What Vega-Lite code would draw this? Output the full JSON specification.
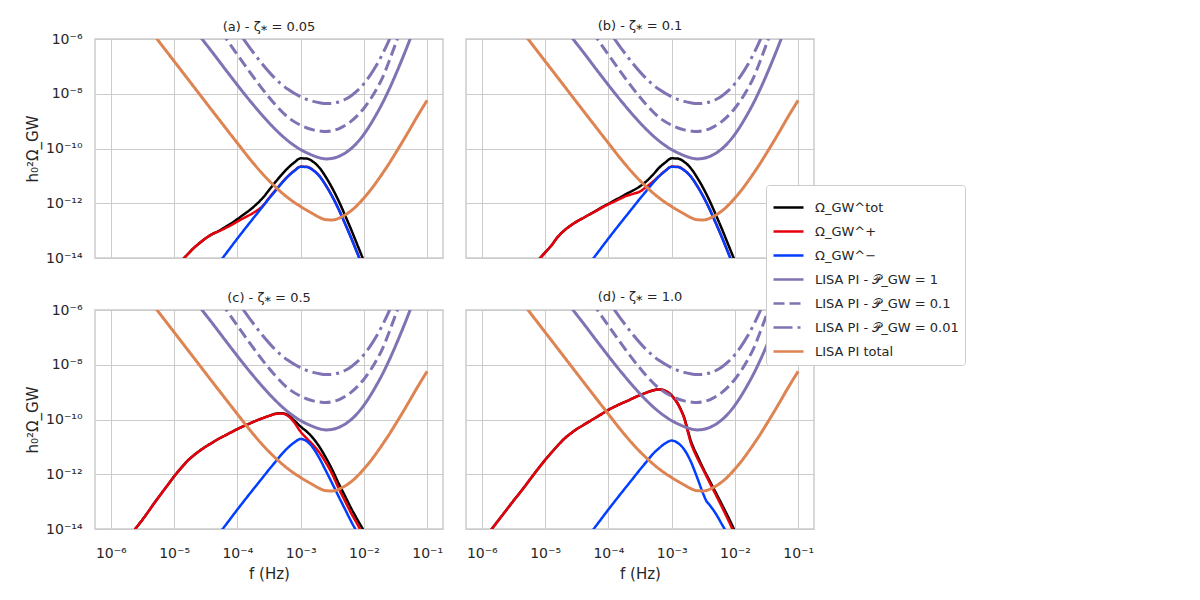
{
  "$schema": "https://vega.github.io/schema/vega-lite/v6.json",
  "padding": {"left": 24, "top": 19, "right": 5, "bottom": 5},
  "datasets": {
    "sens": [
      {"series": "LISA PI - 𝒫_GW = 1", "f": 1.585e-5, "v": 5.25e-6},
      {"series": "LISA PI - 𝒫_GW = 1", "f": 2.512e-5, "v": 1.32e-6},
      {"series": "LISA PI - 𝒫_GW = 1", "f": 3.981e-5, "v": 3.39e-7},
      {"series": "LISA PI - 𝒫_GW = 1", "f": 6.310e-5, "v": 8.32e-8},
      {"series": "LISA PI - 𝒫_GW = 1", "f": 1e-4, "v": 2.09e-8},
      {"series": "LISA PI - 𝒫_GW = 1", "f": 1.585e-4, "v": 5.50e-9},
      {"series": "LISA PI - 𝒫_GW = 1", "f": 2.512e-4, "v": 1.58e-9},
      {"series": "LISA PI - 𝒫_GW = 1", "f": 3.981e-4, "v": 5.01e-10},
      {"series": "LISA PI - 𝒫_GW = 1", "f": 6.310e-4, "v": 1.91e-10},
      {"series": "LISA PI - 𝒫_GW = 1", "f": 1e-3, "v": 9.12e-11},
      {"series": "LISA PI - 𝒫_GW = 1", "f": 1.259e-3, "v": 6.92e-11},
      {"series": "LISA PI - 𝒫_GW = 1", "f": 1.585e-3, "v": 5.50e-11},
      {"series": "LISA PI - 𝒫_GW = 1", "f": 1.995e-3, "v": 4.57e-11},
      {"series": "LISA PI - 𝒫_GW = 1", "f": 2.512e-3, "v": 4.17e-11},
      {"series": "LISA PI - 𝒫_GW = 1", "f": 3.162e-3, "v": 4.37e-11},
      {"series": "LISA PI - 𝒫_GW = 1", "f": 3.981e-3, "v": 5.13e-11},
      {"series": "LISA PI - 𝒫_GW = 1", "f": 5.012e-3, "v": 6.76e-11},
      {"series": "LISA PI - 𝒫_GW = 1", "f": 6.310e-3, "v": 1.00e-10},
      {"series": "LISA PI - 𝒫_GW = 1", "f": 7.943e-3, "v": 1.70e-10},
      {"series": "LISA PI - 𝒫_GW = 1", "f": 1e-2, "v": 3.31e-10},
      {"series": "LISA PI - 𝒫_GW = 1", "f": 1.259e-2, "v": 7.41e-10},
      {"series": "LISA PI - 𝒫_GW = 1", "f": 1.585e-2, "v": 1.82e-9},
      {"series": "LISA PI - 𝒫_GW = 1", "f": 1.995e-2, "v": 4.90e-9},
      {"series": "LISA PI - 𝒫_GW = 1", "f": 2.512e-2, "v": 1.48e-8},
      {"series": "LISA PI - 𝒫_GW = 1", "f": 3.162e-2, "v": 4.90e-8},
      {"series": "LISA PI - 𝒫_GW = 1", "f": 3.981e-2, "v": 1.74e-7},
      {"series": "LISA PI - 𝒫_GW = 1", "f": 5.012e-2, "v": 6.61e-7},
      {"series": "LISA PI - 𝒫_GW = 1", "f": 6.310e-2, "v": 2.63e-6},

      {"series": "LISA PI - 𝒫_GW = 0.1", "f": 3.981e-5, "v": 5.75e-6},
      {"series": "LISA PI - 𝒫_GW = 0.1", "f": 6.310e-5, "v": 1.23e-6},
      {"series": "LISA PI - 𝒫_GW = 0.1", "f": 1e-4, "v": 2.69e-7},
      {"series": "LISA PI - 𝒫_GW = 0.1", "f": 1.585e-4, "v": 6.03e-8},
      {"series": "LISA PI - 𝒫_GW = 0.1", "f": 2.512e-4, "v": 1.45e-8},
      {"series": "LISA PI - 𝒫_GW = 0.1", "f": 3.981e-4, "v": 3.98e-9},
      {"series": "LISA PI - 𝒫_GW = 0.1", "f": 6.310e-4, "v": 1.38e-9},
      {"series": "LISA PI - 𝒫_GW = 0.1", "f": 1e-3, "v": 7.08e-10},
      {"series": "LISA PI - 𝒫_GW = 0.1", "f": 1.259e-3, "v": 5.62e-10},
      {"series": "LISA PI - 𝒫_GW = 0.1", "f": 1.585e-3, "v": 4.79e-10},
      {"series": "LISA PI - 𝒫_GW = 0.1", "f": 1.995e-3, "v": 4.37e-10},
      {"series": "LISA PI - 𝒫_GW = 0.1", "f": 2.512e-3, "v": 4.17e-10},
      {"series": "LISA PI - 𝒫_GW = 0.1", "f": 3.162e-3, "v": 4.47e-10},
      {"series": "LISA PI - 𝒫_GW = 0.1", "f": 3.981e-3, "v": 5.25e-10},
      {"series": "LISA PI - 𝒫_GW = 0.1", "f": 5.012e-3, "v": 6.92e-10},
      {"series": "LISA PI - 𝒫_GW = 0.1", "f": 6.310e-3, "v": 1.00e-9},
      {"series": "LISA PI - 𝒫_GW = 0.1", "f": 7.943e-3, "v": 1.62e-9},
      {"series": "LISA PI - 𝒫_GW = 0.1", "f": 1e-2, "v": 2.95e-9},
      {"series": "LISA PI - 𝒫_GW = 0.1", "f": 1.259e-2, "v": 6.17e-9},
      {"series": "LISA PI - 𝒫_GW = 0.1", "f": 1.585e-2, "v": 1.48e-8},
      {"series": "LISA PI - 𝒫_GW = 0.1", "f": 1.995e-2, "v": 4.17e-8},
      {"series": "LISA PI - 𝒫_GW = 0.1", "f": 2.512e-2, "v": 1.58e-7},
      {"series": "LISA PI - 𝒫_GW = 0.1", "f": 3.162e-2, "v": 6.61e-7},
      {"series": "LISA PI - 𝒫_GW = 0.1", "f": 3.981e-2, "v": 2.82e-6},

      {"series": "LISA PI - 𝒫_GW = 0.01", "f": 6.310e-5, "v": 1.00e-5},
      {"series": "LISA PI - 𝒫_GW = 0.01", "f": 1e-4, "v": 2.09e-6},
      {"series": "LISA PI - 𝒫_GW = 0.01", "f": 1.585e-4, "v": 4.68e-7},
      {"series": "LISA PI - 𝒫_GW = 0.01", "f": 2.512e-4, "v": 1.17e-7},
      {"series": "LISA PI - 𝒫_GW = 0.01", "f": 3.981e-4, "v": 3.55e-8},
      {"series": "LISA PI - 𝒫_GW = 0.01", "f": 6.310e-4, "v": 1.45e-8},
      {"series": "LISA PI - 𝒫_GW = 0.01", "f": 1e-3, "v": 7.76e-9},
      {"series": "LISA PI - 𝒫_GW = 0.01", "f": 1.259e-3, "v": 6.17e-9},
      {"series": "LISA PI - 𝒫_GW = 0.01", "f": 1.585e-3, "v": 5.25e-9},
      {"series": "LISA PI - 𝒫_GW = 0.01", "f": 1.995e-3, "v": 4.68e-9},
      {"series": "LISA PI - 𝒫_GW = 0.01", "f": 2.512e-3, "v": 4.37e-9},
      {"series": "LISA PI - 𝒫_GW = 0.01", "f": 3.162e-3, "v": 4.47e-9},
      {"series": "LISA PI - 𝒫_GW = 0.01", "f": 3.981e-3, "v": 5.01e-9},
      {"series": "LISA PI - 𝒫_GW = 0.01", "f": 5.012e-3, "v": 6.17e-9},
      {"series": "LISA PI - 𝒫_GW = 0.01", "f": 6.310e-3, "v": 8.51e-9},
      {"series": "LISA PI - 𝒫_GW = 0.01", "f": 7.943e-3, "v": 1.32e-8},
      {"series": "LISA PI - 𝒫_GW = 0.01", "f": 1e-2, "v": 2.34e-8},
      {"series": "LISA PI - 𝒫_GW = 0.01", "f": 1.259e-2, "v": 4.79e-8},
      {"series": "LISA PI - 𝒫_GW = 0.01", "f": 1.585e-2, "v": 1.12e-7},
      {"series": "LISA PI - 𝒫_GW = 0.01", "f": 1.995e-2, "v": 3.02e-7},
      {"series": "LISA PI - 𝒫_GW = 0.01", "f": 2.512e-2, "v": 9.33e-7},
      {"series": "LISA PI - 𝒫_GW = 0.01", "f": 3.162e-2, "v": 3.31e-6},

      {"series": "LISA PI total", "f": 2.512e-6, "v": 9.77e-6},
      {"series": "LISA PI total", "f": 6.310e-6, "v": 6.17e-7},
      {"series": "LISA PI total", "f": 1.585e-5, "v": 3.89e-8},
      {"series": "LISA PI total", "f": 3.981e-5, "v": 2.45e-9},
      {"series": "LISA PI total", "f": 1e-4, "v": 1.58e-10},
      {"series": "LISA PI total", "f": 1.585e-4, "v": 4.07e-11},
      {"series": "LISA PI total", "f": 2.512e-4, "v": 1.17e-11},
      {"series": "LISA PI total", "f": 3.981e-4, "v": 3.98e-12},
      {"series": "LISA PI total", "f": 6.310e-4, "v": 1.58e-12},
      {"series": "LISA PI total", "f": 1e-3, "v": 7.59e-13},
      {"series": "LISA PI total", "f": 1.259e-3, "v": 5.50e-13},
      {"series": "LISA PI total", "f": 1.585e-3, "v": 4.07e-13},
      {"series": "LISA PI total", "f": 1.995e-3, "v": 3.02e-13},
      {"series": "LISA PI total", "f": 2.512e-3, "v": 2.51e-13},
      {"series": "LISA PI total", "f": 3.162e-3, "v": 2.45e-13},
      {"series": "LISA PI total", "f": 3.981e-3, "v": 2.82e-13},
      {"series": "LISA PI total", "f": 5.012e-3, "v": 3.72e-13},
      {"series": "LISA PI total", "f": 6.310e-3, "v": 5.37e-13},
      {"series": "LISA PI total", "f": 7.943e-3, "v": 8.71e-13},
      {"series": "LISA PI total", "f": 1e-2, "v": 1.55e-12},
      {"series": "LISA PI total", "f": 1.259e-2, "v": 2.95e-12},
      {"series": "LISA PI total", "f": 1.585e-2, "v": 6.03e-12},
      {"series": "LISA PI total", "f": 1.995e-2, "v": 1.29e-11},
      {"series": "LISA PI total", "f": 2.512e-2, "v": 2.88e-11},
      {"series": "LISA PI total", "f": 3.162e-2, "v": 6.76e-11},
      {"series": "LISA PI total", "f": 3.981e-2, "v": 1.62e-10},
      {"series": "LISA PI total", "f": 5.012e-2, "v": 3.98e-10},
      {"series": "LISA PI total", "f": 6.310e-2, "v": 1.00e-9},
      {"series": "LISA PI total", "f": 7.943e-2, "v": 2.45e-9},
      {"series": "LISA PI total", "f": 0.1, "v": 5.75e-9}
    ],
    "sig": [
      {"panel": "a", "series": "Ω_GW^tot", "f": 1.259e-5, "v": 7.08e-15},
      {"panel": "a", "series": "Ω_GW^tot", "f": 1.585e-5, "v": 1.26e-14},
      {"panel": "a", "series": "Ω_GW^tot", "f": 1.995e-5, "v": 2.19e-14},
      {"panel": "a", "series": "Ω_GW^tot", "f": 2.512e-5, "v": 3.47e-14},
      {"panel": "a", "series": "Ω_GW^tot", "f": 3.162e-5, "v": 5.25e-14},
      {"panel": "a", "series": "Ω_GW^tot", "f": 3.981e-5, "v": 7.41e-14},
      {"panel": "a", "series": "Ω_GW^tot", "f": 5.012e-5, "v": 9.55e-14},
      {"panel": "a", "series": "Ω_GW^tot", "f": 6.310e-5, "v": 1.32e-13},
      {"panel": "a", "series": "Ω_GW^tot", "f": 7.943e-5, "v": 1.82e-13},
      {"panel": "a", "series": "Ω_GW^tot", "f": 1e-4, "v": 2.63e-13},
      {"panel": "a", "series": "Ω_GW^tot", "f": 1.259e-4, "v": 3.89e-13},
      {"panel": "a", "series": "Ω_GW^tot", "f": 1.585e-4, "v": 5.75e-13},
      {"panel": "a", "series": "Ω_GW^tot", "f": 1.995e-4, "v": 9.12e-13},
      {"panel": "a", "series": "Ω_GW^tot", "f": 2.512e-4, "v": 1.55e-12},
      {"panel": "a", "series": "Ω_GW^tot", "f": 3.162e-4, "v": 3.02e-12},
      {"panel": "a", "series": "Ω_GW^tot", "f": 3.981e-4, "v": 5.89e-12},
      {"panel": "a", "series": "Ω_GW^tot", "f": 5.012e-4, "v": 1.10e-11},
      {"panel": "a", "series": "Ω_GW^tot", "f": 6.310e-4, "v": 1.95e-11},
      {"panel": "a", "series": "Ω_GW^tot", "f": 7.943e-4, "v": 3.09e-11},
      {"panel": "a", "series": "Ω_GW^tot", "f": 1e-3, "v": 4.37e-11},
      {"panel": "a", "series": "Ω_GW^tot", "f": 1.259e-3, "v": 4.27e-11},
      {"panel": "a", "series": "Ω_GW^tot", "f": 1.585e-3, "v": 3.24e-11},
      {"panel": "a", "series": "Ω_GW^tot", "f": 1.995e-3, "v": 1.95e-11},
      {"panel": "a", "series": "Ω_GW^tot", "f": 2.512e-3, "v": 8.91e-12},
      {"panel": "a", "series": "Ω_GW^tot", "f": 3.162e-3, "v": 3.55e-12},
      {"panel": "a", "series": "Ω_GW^tot", "f": 3.981e-3, "v": 1.23e-12},
      {"panel": "a", "series": "Ω_GW^tot", "f": 5.012e-3, "v": 3.72e-13},
      {"panel": "a", "series": "Ω_GW^tot", "f": 6.310e-3, "v": 1.07e-13},
      {"panel": "a", "series": "Ω_GW^tot", "f": 7.943e-3, "v": 2.88e-14},
      {"panel": "a", "series": "Ω_GW^tot", "f": 1e-2, "v": 7.76e-15},

      {"panel": "a", "series": "Ω_GW^+", "f": 1.259e-5, "v": 7.08e-15},
      {"panel": "a", "series": "Ω_GW^+", "f": 1.585e-5, "v": 1.26e-14},
      {"panel": "a", "series": "Ω_GW^+", "f": 1.995e-5, "v": 2.19e-14},
      {"panel": "a", "series": "Ω_GW^+", "f": 2.512e-5, "v": 3.47e-14},
      {"panel": "a", "series": "Ω_GW^+", "f": 3.162e-5, "v": 5.25e-14},
      {"panel": "a", "series": "Ω_GW^+", "f": 3.981e-5, "v": 7.41e-14},
      {"panel": "a", "series": "Ω_GW^+", "f": 5.012e-5, "v": 9.33e-14},
      {"panel": "a", "series": "Ω_GW^+", "f": 6.310e-5, "v": 1.20e-13},
      {"panel": "a", "series": "Ω_GW^+", "f": 7.943e-5, "v": 1.58e-13},
      {"panel": "a", "series": "Ω_GW^+", "f": 1e-4, "v": 2.14e-13},
      {"panel": "a", "series": "Ω_GW^+", "f": 1.259e-4, "v": 2.88e-13},
      {"panel": "a", "series": "Ω_GW^+", "f": 1.585e-4, "v": 3.80e-13},
      {"panel": "a", "series": "Ω_GW^+", "f": 1.995e-4, "v": 5.25e-13},
      {"panel": "a", "series": "Ω_GW^+", "f": 2.512e-4, "v": 7.94e-13},
      {"panel": "a", "series": "Ω_GW^+", "f": 3.162e-4, "v": 1.55e-12},
      {"panel": "a", "series": "Ω_GW^+", "f": 3.981e-4, "v": 2.95e-12},
      {"panel": "a", "series": "Ω_GW^+", "f": 5.012e-4, "v": 5.50e-12},
      {"panel": "a", "series": "Ω_GW^+", "f": 6.310e-4, "v": 9.77e-12},
      {"panel": "a", "series": "Ω_GW^+", "f": 7.943e-4, "v": 1.55e-11},
      {"panel": "a", "series": "Ω_GW^+", "f": 1e-3, "v": 2.19e-11},
      {"panel": "a", "series": "Ω_GW^+", "f": 1.259e-3, "v": 2.14e-11},
      {"panel": "a", "series": "Ω_GW^+", "f": 1.585e-3, "v": 1.62e-11},
      {"panel": "a", "series": "Ω_GW^+", "f": 1.995e-3, "v": 9.77e-12},
      {"panel": "a", "series": "Ω_GW^+", "f": 2.512e-3, "v": 4.47e-12},
      {"panel": "a", "series": "Ω_GW^+", "f": 3.162e-3, "v": 1.78e-12},
      {"panel": "a", "series": "Ω_GW^+", "f": 3.981e-3, "v": 6.17e-13},
      {"panel": "a", "series": "Ω_GW^+", "f": 5.012e-3, "v": 1.86e-13},
      {"panel": "a", "series": "Ω_GW^+", "f": 6.310e-3, "v": 5.37e-14},
      {"panel": "a", "series": "Ω_GW^+", "f": 7.943e-3, "v": 1.45e-14},
      {"panel": "a", "series": "Ω_GW^+", "f": 1e-2, "v": 3.89e-15},

      {"panel": "a", "series": "Ω_GW^−", "f": 5.012e-5, "v": 6.31e-15},
      {"panel": "a", "series": "Ω_GW^−", "f": 6.310e-5, "v": 1.26e-14},
      {"panel": "a", "series": "Ω_GW^−", "f": 1e-4, "v": 5.13e-14},
      {"panel": "a", "series": "Ω_GW^−", "f": 1.585e-4, "v": 2.00e-13},
      {"panel": "a", "series": "Ω_GW^−", "f": 2.512e-4, "v": 7.59e-13},
      {"panel": "a", "series": "Ω_GW^−", "f": 3.162e-4, "v": 1.48e-12},
      {"panel": "a", "series": "Ω_GW^−", "f": 3.981e-4, "v": 2.82e-12},
      {"panel": "a", "series": "Ω_GW^−", "f": 5.012e-4, "v": 5.37e-12},
      {"panel": "a", "series": "Ω_GW^−", "f": 6.310e-4, "v": 9.55e-12},
      {"panel": "a", "series": "Ω_GW^−", "f": 7.943e-4, "v": 1.51e-11},
      {"panel": "a", "series": "Ω_GW^−", "f": 1e-3, "v": 2.14e-11},
      {"panel": "a", "series": "Ω_GW^−", "f": 1.259e-3, "v": 2.09e-11},
      {"panel": "a", "series": "Ω_GW^−", "f": 1.585e-3, "v": 1.58e-11},
      {"panel": "a", "series": "Ω_GW^−", "f": 1.995e-3, "v": 9.55e-12},
      {"panel": "a", "series": "Ω_GW^−", "f": 2.512e-3, "v": 4.37e-12},
      {"panel": "a", "series": "Ω_GW^−", "f": 3.162e-3, "v": 1.74e-12},
      {"panel": "a", "series": "Ω_GW^−", "f": 3.981e-3, "v": 6.03e-13},
      {"panel": "a", "series": "Ω_GW^−", "f": 5.012e-3, "v": 1.82e-13},
      {"panel": "a", "series": "Ω_GW^−", "f": 6.310e-3, "v": 5.25e-14},
      {"panel": "a", "series": "Ω_GW^−", "f": 7.943e-3, "v": 1.41e-14},
      {"panel": "a", "series": "Ω_GW^−", "f": 1e-2, "v": 3.80e-15},

      {"panel": "b", "series": "Ω_GW^tot", "f": 7.943e-6, "v": 8.71e-15},
      {"panel": "b", "series": "Ω_GW^tot", "f": 1e-5, "v": 1.58e-14},
      {"panel": "b", "series": "Ω_GW^tot", "f": 1.259e-5, "v": 2.88e-14},
      {"panel": "b", "series": "Ω_GW^tot", "f": 1.585e-5, "v": 5.89e-14},
      {"panel": "b", "series": "Ω_GW^tot", "f": 1.995e-5, "v": 1.00e-13},
      {"panel": "b", "series": "Ω_GW^tot", "f": 2.512e-5, "v": 1.51e-13},
      {"panel": "b", "series": "Ω_GW^tot", "f": 3.162e-5, "v": 2.14e-13},
      {"panel": "b", "series": "Ω_GW^tot", "f": 3.981e-5, "v": 2.88e-13},
      {"panel": "b", "series": "Ω_GW^tot", "f": 5.012e-5, "v": 3.89e-13},
      {"panel": "b", "series": "Ω_GW^tot", "f": 6.310e-5, "v": 5.25e-13},
      {"panel": "b", "series": "Ω_GW^tot", "f": 7.943e-5, "v": 7.24e-13},
      {"panel": "b", "series": "Ω_GW^tot", "f": 1e-4, "v": 9.55e-13},
      {"panel": "b", "series": "Ω_GW^tot", "f": 1.259e-4, "v": 1.29e-12},
      {"panel": "b", "series": "Ω_GW^tot", "f": 1.585e-4, "v": 1.70e-12},
      {"panel": "b", "series": "Ω_GW^tot", "f": 1.995e-4, "v": 2.29e-12},
      {"panel": "b", "series": "Ω_GW^tot", "f": 2.512e-4, "v": 3.02e-12},
      {"panel": "b", "series": "Ω_GW^tot", "f": 3.162e-4, "v": 4.17e-12},
      {"panel": "b", "series": "Ω_GW^tot", "f": 3.981e-4, "v": 6.31e-12},
      {"panel": "b", "series": "Ω_GW^tot", "f": 5.012e-4, "v": 1.07e-11},
      {"panel": "b", "series": "Ω_GW^tot", "f": 6.310e-4, "v": 1.95e-11},
      {"panel": "b", "series": "Ω_GW^tot", "f": 7.943e-4, "v": 3.09e-11},
      {"panel": "b", "series": "Ω_GW^tot", "f": 1e-3, "v": 4.37e-11},
      {"panel": "b", "series": "Ω_GW^tot", "f": 1.259e-3, "v": 4.27e-11},
      {"panel": "b", "series": "Ω_GW^tot", "f": 1.585e-3, "v": 3.24e-11},
      {"panel": "b", "series": "Ω_GW^tot", "f": 1.995e-3, "v": 1.95e-11},
      {"panel": "b", "series": "Ω_GW^tot", "f": 2.512e-3, "v": 8.91e-12},
      {"panel": "b", "series": "Ω_GW^tot", "f": 3.162e-3, "v": 3.55e-12},
      {"panel": "b", "series": "Ω_GW^tot", "f": 3.981e-3, "v": 1.23e-12},
      {"panel": "b", "series": "Ω_GW^tot", "f": 5.012e-3, "v": 3.72e-13},
      {"panel": "b", "series": "Ω_GW^tot", "f": 6.310e-3, "v": 1.07e-13},
      {"panel": "b", "series": "Ω_GW^tot", "f": 7.943e-3, "v": 2.88e-14},
      {"panel": "b", "series": "Ω_GW^tot", "f": 1e-2, "v": 7.76e-15},

      {"panel": "b", "series": "Ω_GW^+", "f": 7.943e-6, "v": 8.71e-15},
      {"panel": "b", "series": "Ω_GW^+", "f": 1e-5, "v": 1.58e-14},
      {"panel": "b", "series": "Ω_GW^+", "f": 1.259e-5, "v": 2.88e-14},
      {"panel": "b", "series": "Ω_GW^+", "f": 1.585e-5, "v": 5.89e-14},
      {"panel": "b", "series": "Ω_GW^+", "f": 1.995e-5, "v": 1.00e-13},
      {"panel": "b", "series": "Ω_GW^+", "f": 2.512e-5, "v": 1.51e-13},
      {"panel": "b", "series": "Ω_GW^+", "f": 3.162e-5, "v": 2.14e-13},
      {"panel": "b", "series": "Ω_GW^+", "f": 3.981e-5, "v": 2.88e-13},
      {"panel": "b", "series": "Ω_GW^+", "f": 5.012e-5, "v": 3.89e-13},
      {"panel": "b", "series": "Ω_GW^+", "f": 6.310e-5, "v": 5.13e-13},
      {"panel": "b", "series": "Ω_GW^+", "f": 7.943e-5, "v": 6.92e-13},
      {"panel": "b", "series": "Ω_GW^+", "f": 1e-4, "v": 9.12e-13},
      {"panel": "b", "series": "Ω_GW^+", "f": 1.259e-4, "v": 1.17e-12},
      {"panel": "b", "series": "Ω_GW^+", "f": 1.585e-4, "v": 1.51e-12},
      {"panel": "b", "series": "Ω_GW^+", "f": 1.995e-4, "v": 1.91e-12},
      {"panel": "b", "series": "Ω_GW^+", "f": 2.512e-4, "v": 2.24e-12},
      {"panel": "b", "series": "Ω_GW^+", "f": 3.162e-4, "v": 2.69e-12},
      {"panel": "b", "series": "Ω_GW^+", "f": 3.981e-4, "v": 3.98e-12},
      {"panel": "b", "series": "Ω_GW^+", "f": 5.012e-4, "v": 6.03e-12},
      {"panel": "b", "series": "Ω_GW^+", "f": 6.310e-4, "v": 9.77e-12},
      {"panel": "b", "series": "Ω_GW^+", "f": 7.943e-4, "v": 1.55e-11},
      {"panel": "b", "series": "Ω_GW^+", "f": 1e-3, "v": 2.19e-11},
      {"panel": "b", "series": "Ω_GW^+", "f": 1.259e-3, "v": 2.14e-11},
      {"panel": "b", "series": "Ω_GW^+", "f": 1.585e-3, "v": 1.62e-11},
      {"panel": "b", "series": "Ω_GW^+", "f": 1.995e-3, "v": 9.77e-12},
      {"panel": "b", "series": "Ω_GW^+", "f": 2.512e-3, "v": 4.47e-12},
      {"panel": "b", "series": "Ω_GW^+", "f": 3.162e-3, "v": 1.78e-12},
      {"panel": "b", "series": "Ω_GW^+", "f": 3.981e-3, "v": 6.17e-13},
      {"panel": "b", "series": "Ω_GW^+", "f": 5.012e-3, "v": 1.86e-13},
      {"panel": "b", "series": "Ω_GW^+", "f": 6.310e-3, "v": 5.37e-14},
      {"panel": "b", "series": "Ω_GW^+", "f": 7.943e-3, "v": 1.45e-14},
      {"panel": "b", "series": "Ω_GW^+", "f": 1e-2, "v": 3.89e-15},

      {"panel": "b", "series": "Ω_GW^−", "f": 5.012e-5, "v": 6.31e-15},
      {"panel": "b", "series": "Ω_GW^−", "f": 6.310e-5, "v": 1.26e-14},
      {"panel": "b", "series": "Ω_GW^−", "f": 1e-4, "v": 5.13e-14},
      {"panel": "b", "series": "Ω_GW^−", "f": 1.585e-4, "v": 2.00e-13},
      {"panel": "b", "series": "Ω_GW^−", "f": 2.512e-4, "v": 7.59e-13},
      {"panel": "b", "series": "Ω_GW^−", "f": 3.162e-4, "v": 1.48e-12},
      {"panel": "b", "series": "Ω_GW^−", "f": 3.981e-4, "v": 2.82e-12},
      {"panel": "b", "series": "Ω_GW^−", "f": 5.012e-4, "v": 5.37e-12},
      {"panel": "b", "series": "Ω_GW^−", "f": 6.310e-4, "v": 9.55e-12},
      {"panel": "b", "series": "Ω_GW^−", "f": 7.943e-4, "v": 1.51e-11},
      {"panel": "b", "series": "Ω_GW^−", "f": 1e-3, "v": 2.14e-11},
      {"panel": "b", "series": "Ω_GW^−", "f": 1.259e-3, "v": 2.09e-11},
      {"panel": "b", "series": "Ω_GW^−", "f": 1.585e-3, "v": 1.58e-11},
      {"panel": "b", "series": "Ω_GW^−", "f": 1.995e-3, "v": 9.55e-12},
      {"panel": "b", "series": "Ω_GW^−", "f": 2.512e-3, "v": 4.37e-12},
      {"panel": "b", "series": "Ω_GW^−", "f": 3.162e-3, "v": 1.74e-12},
      {"panel": "b", "series": "Ω_GW^−", "f": 3.981e-3, "v": 6.03e-13},
      {"panel": "b", "series": "Ω_GW^−", "f": 5.012e-3, "v": 1.82e-13},
      {"panel": "b", "series": "Ω_GW^−", "f": 6.310e-3, "v": 5.25e-14},
      {"panel": "b", "series": "Ω_GW^−", "f": 7.943e-3, "v": 1.41e-14},
      {"panel": "b", "series": "Ω_GW^−", "f": 1e-2, "v": 3.80e-15},

      {"panel": "c", "series": "Ω_GW^tot", "f": 1.995e-6, "v": 5.37e-15},
      {"panel": "c", "series": "Ω_GW^tot", "f": 2.512e-6, "v": 1.10e-14},
      {"panel": "c", "series": "Ω_GW^tot", "f": 3.162e-6, "v": 2.19e-14},
      {"panel": "c", "series": "Ω_GW^tot", "f": 3.981e-6, "v": 4.57e-14},
      {"panel": "c", "series": "Ω_GW^tot", "f": 5.012e-6, "v": 9.77e-14},
      {"panel": "c", "series": "Ω_GW^tot", "f": 6.310e-6, "v": 2.00e-13},
      {"panel": "c", "series": "Ω_GW^tot", "f": 7.943e-6, "v": 4.07e-13},
      {"panel": "c", "series": "Ω_GW^tot", "f": 1e-5, "v": 8.32e-13},
      {"panel": "c", "series": "Ω_GW^tot", "f": 1.259e-5, "v": 1.58e-12},
      {"panel": "c", "series": "Ω_GW^tot", "f": 1.585e-5, "v": 2.88e-12},
      {"panel": "c", "series": "Ω_GW^tot", "f": 1.995e-5, "v": 4.68e-12},
      {"panel": "c", "series": "Ω_GW^tot", "f": 2.512e-5, "v": 7.08e-12},
      {"panel": "c", "series": "Ω_GW^tot", "f": 3.162e-5, "v": 1.02e-11},
      {"panel": "c", "series": "Ω_GW^tot", "f": 3.981e-5, "v": 1.41e-11},
      {"panel": "c", "series": "Ω_GW^tot", "f": 5.012e-5, "v": 1.95e-11},
      {"panel": "c", "series": "Ω_GW^tot", "f": 6.310e-5, "v": 2.57e-11},
      {"panel": "c", "series": "Ω_GW^tot", "f": 7.943e-5, "v": 3.39e-11},
      {"panel": "c", "series": "Ω_GW^tot", "f": 1e-4, "v": 4.47e-11},
      {"panel": "c", "series": "Ω_GW^tot", "f": 1.259e-4, "v": 5.75e-11},
      {"panel": "c", "series": "Ω_GW^tot", "f": 1.585e-4, "v": 7.24e-11},
      {"panel": "c", "series": "Ω_GW^tot", "f": 1.995e-4, "v": 9.12e-11},
      {"panel": "c", "series": "Ω_GW^tot", "f": 2.512e-4, "v": 1.12e-10},
      {"panel": "c", "series": "Ω_GW^tot", "f": 3.162e-4, "v": 1.35e-10},
      {"panel": "c", "series": "Ω_GW^tot", "f": 3.981e-4, "v": 1.62e-10},
      {"panel": "c", "series": "Ω_GW^tot", "f": 5.012e-4, "v": 1.70e-10},
      {"panel": "c", "series": "Ω_GW^tot", "f": 6.310e-4, "v": 1.45e-10},
      {"panel": "c", "series": "Ω_GW^tot", "f": 7.943e-4, "v": 9.12e-11},
      {"panel": "c", "series": "Ω_GW^tot", "f": 1e-3, "v": 5.50e-11},
      {"panel": "c", "series": "Ω_GW^tot", "f": 1.259e-3, "v": 3.55e-11},
      {"panel": "c", "series": "Ω_GW^tot", "f": 1.585e-3, "v": 2.04e-11},
      {"panel": "c", "series": "Ω_GW^tot", "f": 1.995e-3, "v": 9.77e-12},
      {"panel": "c", "series": "Ω_GW^tot", "f": 2.512e-3, "v": 3.98e-12},
      {"panel": "c", "series": "Ω_GW^tot", "f": 3.162e-3, "v": 1.45e-12},
      {"panel": "c", "series": "Ω_GW^tot", "f": 3.981e-3, "v": 4.68e-13},
      {"panel": "c", "series": "Ω_GW^tot", "f": 5.012e-3, "v": 1.62e-13},
      {"panel": "c", "series": "Ω_GW^tot", "f": 6.310e-3, "v": 5.62e-14},
      {"panel": "c", "series": "Ω_GW^tot", "f": 7.943e-3, "v": 2.14e-14},
      {"panel": "c", "series": "Ω_GW^tot", "f": 1e-2, "v": 8.51e-15},

      {"panel": "c", "series": "Ω_GW^+", "f": 1.995e-6, "v": 5.37e-15},
      {"panel": "c", "series": "Ω_GW^+", "f": 2.512e-6, "v": 1.10e-14},
      {"panel": "c", "series": "Ω_GW^+", "f": 3.162e-6, "v": 2.19e-14},
      {"panel": "c", "series": "Ω_GW^+", "f": 3.981e-6, "v": 4.57e-14},
      {"panel": "c", "series": "Ω_GW^+", "f": 5.012e-6, "v": 9.77e-14},
      {"panel": "c", "series": "Ω_GW^+", "f": 6.310e-6, "v": 2.00e-13},
      {"panel": "c", "series": "Ω_GW^+", "f": 7.943e-6, "v": 4.07e-13},
      {"panel": "c", "series": "Ω_GW^+", "f": 1e-5, "v": 8.32e-13},
      {"panel": "c", "series": "Ω_GW^+", "f": 1.259e-5, "v": 1.58e-12},
      {"panel": "c", "series": "Ω_GW^+", "f": 1.585e-5, "v": 2.88e-12},
      {"panel": "c", "series": "Ω_GW^+", "f": 1.995e-5, "v": 4.68e-12},
      {"panel": "c", "series": "Ω_GW^+", "f": 2.512e-5, "v": 7.08e-12},
      {"panel": "c", "series": "Ω_GW^+", "f": 3.162e-5, "v": 1.02e-11},
      {"panel": "c", "series": "Ω_GW^+", "f": 3.981e-5, "v": 1.41e-11},
      {"panel": "c", "series": "Ω_GW^+", "f": 5.012e-5, "v": 1.95e-11},
      {"panel": "c", "series": "Ω_GW^+", "f": 6.310e-5, "v": 2.57e-11},
      {"panel": "c", "series": "Ω_GW^+", "f": 7.943e-5, "v": 3.39e-11},
      {"panel": "c", "series": "Ω_GW^+", "f": 1e-4, "v": 4.47e-11},
      {"panel": "c", "series": "Ω_GW^+", "f": 1.259e-4, "v": 5.75e-11},
      {"panel": "c", "series": "Ω_GW^+", "f": 1.585e-4, "v": 7.24e-11},
      {"panel": "c", "series": "Ω_GW^+", "f": 1.995e-4, "v": 9.12e-11},
      {"panel": "c", "series": "Ω_GW^+", "f": 2.512e-4, "v": 1.12e-10},
      {"panel": "c", "series": "Ω_GW^+", "f": 3.162e-4, "v": 1.35e-10},
      {"panel": "c", "series": "Ω_GW^+", "f": 3.981e-4, "v": 1.58e-10},
      {"panel": "c", "series": "Ω_GW^+", "f": 5.012e-4, "v": 1.66e-10},
      {"panel": "c", "series": "Ω_GW^+", "f": 6.310e-4, "v": 1.35e-10},
      {"panel": "c", "series": "Ω_GW^+", "f": 7.943e-4, "v": 7.76e-11},
      {"panel": "c", "series": "Ω_GW^+", "f": 1e-3, "v": 3.55e-11},
      {"panel": "c", "series": "Ω_GW^+", "f": 1.259e-3, "v": 2.00e-11},
      {"panel": "c", "series": "Ω_GW^+", "f": 1.585e-3, "v": 1.15e-11},
      {"panel": "c", "series": "Ω_GW^+", "f": 1.995e-3, "v": 6.03e-12},
      {"panel": "c", "series": "Ω_GW^+", "f": 2.512e-3, "v": 2.63e-12},
      {"panel": "c", "series": "Ω_GW^+", "f": 3.162e-3, "v": 1.00e-12},
      {"panel": "c", "series": "Ω_GW^+", "f": 3.981e-3, "v": 3.09e-13},
      {"panel": "c", "series": "Ω_GW^+", "f": 5.012e-3, "v": 1.07e-13},
      {"panel": "c", "series": "Ω_GW^+", "f": 6.310e-3, "v": 3.72e-14},
      {"panel": "c", "series": "Ω_GW^+", "f": 7.943e-3, "v": 1.45e-14},
      {"panel": "c", "series": "Ω_GW^+", "f": 1e-2, "v": 5.01e-15},

      {"panel": "c", "series": "Ω_GW^−", "f": 5.012e-5, "v": 6.31e-15},
      {"panel": "c", "series": "Ω_GW^−", "f": 6.310e-5, "v": 1.26e-14},
      {"panel": "c", "series": "Ω_GW^−", "f": 1e-4, "v": 5.13e-14},
      {"panel": "c", "series": "Ω_GW^−", "f": 1.585e-4, "v": 2.00e-13},
      {"panel": "c", "series": "Ω_GW^−", "f": 2.512e-4, "v": 7.59e-13},
      {"panel": "c", "series": "Ω_GW^−", "f": 3.162e-4, "v": 1.48e-12},
      {"panel": "c", "series": "Ω_GW^−", "f": 3.981e-4, "v": 2.82e-12},
      {"panel": "c", "series": "Ω_GW^−", "f": 5.012e-4, "v": 5.37e-12},
      {"panel": "c", "series": "Ω_GW^−", "f": 6.310e-4, "v": 9.33e-12},
      {"panel": "c", "series": "Ω_GW^−", "f": 7.943e-4, "v": 1.45e-11},
      {"panel": "c", "series": "Ω_GW^−", "f": 1e-3, "v": 1.95e-11},
      {"panel": "c", "series": "Ω_GW^−", "f": 1.259e-3, "v": 1.58e-11},
      {"panel": "c", "series": "Ω_GW^−", "f": 1.585e-3, "v": 8.91e-12},
      {"panel": "c", "series": "Ω_GW^−", "f": 1.995e-3, "v": 3.72e-12},
      {"panel": "c", "series": "Ω_GW^−", "f": 2.512e-3, "v": 1.32e-12},
      {"panel": "c", "series": "Ω_GW^−", "f": 3.162e-3, "v": 4.57e-13},
      {"panel": "c", "series": "Ω_GW^−", "f": 3.981e-3, "v": 1.55e-13},
      {"panel": "c", "series": "Ω_GW^−", "f": 5.012e-3, "v": 5.37e-14},
      {"panel": "c", "series": "Ω_GW^−", "f": 6.310e-3, "v": 1.86e-14},
      {"panel": "c", "series": "Ω_GW^−", "f": 7.943e-3, "v": 7.08e-15},

      {"panel": "d", "series": "Ω_GW^tot", "f": 1.259e-6, "v": 6.76e-15},
      {"panel": "d", "series": "Ω_GW^tot", "f": 1.585e-6, "v": 1.35e-14},
      {"panel": "d", "series": "Ω_GW^tot", "f": 1.995e-6, "v": 2.69e-14},
      {"panel": "d", "series": "Ω_GW^tot", "f": 2.512e-6, "v": 5.37e-14},
      {"panel": "d", "series": "Ω_GW^tot", "f": 3.162e-6, "v": 1.07e-13},
      {"panel": "d", "series": "Ω_GW^tot", "f": 3.981e-6, "v": 2.09e-13},
      {"panel": "d", "series": "Ω_GW^tot", "f": 5.012e-6, "v": 4.17e-13},
      {"panel": "d", "series": "Ω_GW^tot", "f": 6.310e-6, "v": 8.51e-13},
      {"panel": "d", "series": "Ω_GW^tot", "f": 7.943e-6, "v": 1.70e-12},
      {"panel": "d", "series": "Ω_GW^tot", "f": 1e-5, "v": 3.31e-12},
      {"panel": "d", "series": "Ω_GW^tot", "f": 1.259e-5, "v": 6.17e-12},
      {"panel": "d", "series": "Ω_GW^tot", "f": 1.585e-5, "v": 1.12e-11},
      {"panel": "d", "series": "Ω_GW^tot", "f": 1.995e-5, "v": 1.95e-11},
      {"panel": "d", "series": "Ω_GW^tot", "f": 2.512e-5, "v": 3.02e-11},
      {"panel": "d", "series": "Ω_GW^tot", "f": 3.162e-5, "v": 4.47e-11},
      {"panel": "d", "series": "Ω_GW^tot", "f": 3.981e-5, "v": 6.17e-11},
      {"panel": "d", "series": "Ω_GW^tot", "f": 5.012e-5, "v": 8.51e-11},
      {"panel": "d", "series": "Ω_GW^tot", "f": 6.310e-5, "v": 1.17e-10},
      {"panel": "d", "series": "Ω_GW^tot", "f": 7.943e-5, "v": 1.62e-10},
      {"panel": "d", "series": "Ω_GW^tot", "f": 1e-4, "v": 2.24e-10},
      {"panel": "d", "series": "Ω_GW^tot", "f": 1.259e-4, "v": 2.95e-10},
      {"panel": "d", "series": "Ω_GW^tot", "f": 1.585e-4, "v": 3.80e-10},
      {"panel": "d", "series": "Ω_GW^tot", "f": 1.995e-4, "v": 4.79e-10},
      {"panel": "d", "series": "Ω_GW^tot", "f": 2.512e-4, "v": 6.17e-10},
      {"panel": "d", "series": "Ω_GW^tot", "f": 3.162e-4, "v": 7.76e-10},
      {"panel": "d", "series": "Ω_GW^tot", "f": 3.981e-4, "v": 9.55e-10},
      {"panel": "d", "series": "Ω_GW^tot", "f": 5.012e-4, "v": 1.15e-9},
      {"panel": "d", "series": "Ω_GW^tot", "f": 6.310e-4, "v": 1.26e-9},
      {"panel": "d", "series": "Ω_GW^tot", "f": 7.943e-4, "v": 1.12e-9},
      {"panel": "d", "series": "Ω_GW^tot", "f": 1e-3, "v": 7.59e-10},
      {"panel": "d", "series": "Ω_GW^tot", "f": 1.259e-3, "v": 3.72e-10},
      {"panel": "d", "series": "Ω_GW^tot", "f": 1.413e-3, "v": 2.19e-10},
      {"panel": "d", "series": "Ω_GW^tot", "f": 1.585e-3, "v": 1.15e-10},
      {"panel": "d", "series": "Ω_GW^tot", "f": 1.778e-3, "v": 4.47e-11},
      {"panel": "d", "series": "Ω_GW^tot", "f": 1.995e-3, "v": 1.78e-11},
      {"panel": "d", "series": "Ω_GW^tot", "f": 2.239e-3, "v": 8.91e-12},
      {"panel": "d", "series": "Ω_GW^tot", "f": 2.512e-3, "v": 5.01e-12},
      {"panel": "d", "series": "Ω_GW^tot", "f": 3.162e-3, "v": 1.62e-12},
      {"panel": "d", "series": "Ω_GW^tot", "f": 3.981e-3, "v": 5.75e-13},
      {"panel": "d", "series": "Ω_GW^tot", "f": 5.012e-3, "v": 2.09e-13},
      {"panel": "d", "series": "Ω_GW^tot", "f": 6.310e-3, "v": 7.41e-14},
      {"panel": "d", "series": "Ω_GW^tot", "f": 7.943e-3, "v": 2.57e-14},
      {"panel": "d", "series": "Ω_GW^tot", "f": 1e-2, "v": 8.32e-15},

      {"panel": "d", "series": "Ω_GW^+", "f": 1.259e-6, "v": 6.76e-15},
      {"panel": "d", "series": "Ω_GW^+", "f": 1.585e-6, "v": 1.35e-14},
      {"panel": "d", "series": "Ω_GW^+", "f": 1.995e-6, "v": 2.69e-14},
      {"panel": "d", "series": "Ω_GW^+", "f": 2.512e-6, "v": 5.37e-14},
      {"panel": "d", "series": "Ω_GW^+", "f": 3.162e-6, "v": 1.07e-13},
      {"panel": "d", "series": "Ω_GW^+", "f": 3.981e-6, "v": 2.09e-13},
      {"panel": "d", "series": "Ω_GW^+", "f": 5.012e-6, "v": 4.17e-13},
      {"panel": "d", "series": "Ω_GW^+", "f": 6.310e-6, "v": 8.51e-13},
      {"panel": "d", "series": "Ω_GW^+", "f": 7.943e-6, "v": 1.70e-12},
      {"panel": "d", "series": "Ω_GW^+", "f": 1e-5, "v": 3.31e-12},
      {"panel": "d", "series": "Ω_GW^+", "f": 1.259e-5, "v": 6.17e-12},
      {"panel": "d", "series": "Ω_GW^+", "f": 1.585e-5, "v": 1.12e-11},
      {"panel": "d", "series": "Ω_GW^+", "f": 1.995e-5, "v": 1.95e-11},
      {"panel": "d", "series": "Ω_GW^+", "f": 2.512e-5, "v": 3.02e-11},
      {"panel": "d", "series": "Ω_GW^+", "f": 3.162e-5, "v": 4.47e-11},
      {"panel": "d", "series": "Ω_GW^+", "f": 3.981e-5, "v": 6.17e-11},
      {"panel": "d", "series": "Ω_GW^+", "f": 5.012e-5, "v": 8.51e-11},
      {"panel": "d", "series": "Ω_GW^+", "f": 6.310e-5, "v": 1.17e-10},
      {"panel": "d", "series": "Ω_GW^+", "f": 7.943e-5, "v": 1.62e-10},
      {"panel": "d", "series": "Ω_GW^+", "f": 1e-4, "v": 2.24e-10},
      {"panel": "d", "series": "Ω_GW^+", "f": 1.259e-4, "v": 2.95e-10},
      {"panel": "d", "series": "Ω_GW^+", "f": 1.585e-4, "v": 3.80e-10},
      {"panel": "d", "series": "Ω_GW^+", "f": 1.995e-4, "v": 4.79e-10},
      {"panel": "d", "series": "Ω_GW^+", "f": 2.512e-4, "v": 6.17e-10},
      {"panel": "d", "series": "Ω_GW^+", "f": 3.162e-4, "v": 7.76e-10},
      {"panel": "d", "series": "Ω_GW^+", "f": 3.981e-4, "v": 9.55e-10},
      {"panel": "d", "series": "Ω_GW^+", "f": 5.012e-4, "v": 1.15e-9},
      {"panel": "d", "series": "Ω_GW^+", "f": 6.310e-4, "v": 1.26e-9},
      {"panel": "d", "series": "Ω_GW^+", "f": 7.943e-4, "v": 1.12e-9},
      {"panel": "d", "series": "Ω_GW^+", "f": 1e-3, "v": 7.41e-10},
      {"panel": "d", "series": "Ω_GW^+", "f": 1.259e-3, "v": 3.55e-10},
      {"panel": "d", "series": "Ω_GW^+", "f": 1.413e-3, "v": 2.09e-10},
      {"panel": "d", "series": "Ω_GW^+", "f": 1.585e-3, "v": 1.07e-10},
      {"panel": "d", "series": "Ω_GW^+", "f": 1.778e-3, "v": 3.98e-11},
      {"panel": "d", "series": "Ω_GW^+", "f": 1.995e-3, "v": 1.48e-11},
      {"panel": "d", "series": "Ω_GW^+", "f": 2.239e-3, "v": 7.41e-12},
      {"panel": "d", "series": "Ω_GW^+", "f": 2.512e-3, "v": 4.17e-12},
      {"panel": "d", "series": "Ω_GW^+", "f": 3.162e-3, "v": 1.45e-12},
      {"panel": "d", "series": "Ω_GW^+", "f": 3.981e-3, "v": 5.01e-13},
      {"panel": "d", "series": "Ω_GW^+", "f": 5.012e-3, "v": 1.74e-13},
      {"panel": "d", "series": "Ω_GW^+", "f": 6.310e-3, "v": 6.03e-14},
      {"panel": "d", "series": "Ω_GW^+", "f": 7.943e-3, "v": 2.00e-14},
      {"panel": "d", "series": "Ω_GW^+", "f": 1e-2, "v": 6.31e-15},

      {"panel": "d", "series": "Ω_GW^−", "f": 5.012e-5, "v": 6.31e-15},
      {"panel": "d", "series": "Ω_GW^−", "f": 6.310e-5, "v": 1.26e-14},
      {"panel": "d", "series": "Ω_GW^−", "f": 1e-4, "v": 5.13e-14},
      {"panel": "d", "series": "Ω_GW^−", "f": 1.585e-4, "v": 2.00e-13},
      {"panel": "d", "series": "Ω_GW^−", "f": 2.512e-4, "v": 7.59e-13},
      {"panel": "d", "series": "Ω_GW^−", "f": 3.162e-4, "v": 1.48e-12},
      {"panel": "d", "series": "Ω_GW^−", "f": 3.981e-4, "v": 2.82e-12},
      {"panel": "d", "series": "Ω_GW^−", "f": 5.012e-4, "v": 5.37e-12},
      {"panel": "d", "series": "Ω_GW^−", "f": 6.310e-4, "v": 8.91e-12},
      {"panel": "d", "series": "Ω_GW^−", "f": 7.943e-4, "v": 1.35e-11},
      {"panel": "d", "series": "Ω_GW^−", "f": 1e-3, "v": 1.70e-11},
      {"panel": "d", "series": "Ω_GW^−", "f": 1.259e-3, "v": 1.38e-11},
      {"panel": "d", "series": "Ω_GW^−", "f": 1.585e-3, "v": 7.94e-12},
      {"panel": "d", "series": "Ω_GW^−", "f": 1.995e-3, "v": 3.02e-12},
      {"panel": "d", "series": "Ω_GW^−", "f": 2.512e-3, "v": 7.94e-13},
      {"panel": "d", "series": "Ω_GW^−", "f": 3.162e-3, "v": 1.91e-13},
      {"panel": "d", "series": "Ω_GW^−", "f": 3.548e-3, "v": 1.05e-13},
      {"panel": "d", "series": "Ω_GW^−", "f": 3.981e-3, "v": 7.59e-14},
      {"panel": "d", "series": "Ω_GW^−", "f": 5.012e-3, "v": 3.55e-14},
      {"panel": "d", "series": "Ω_GW^−", "f": 6.310e-3, "v": 1.41e-14},
      {"panel": "d", "series": "Ω_GW^−", "f": 7.943e-3, "v": 5.62e-15}
    ]
  },
  "columns": 2,
  "spacing": {"row": 24, "column": 21},
  "resolve": {"scale": {"color": "shared", "strokeDash": "shared"}, "legend": {"color": "shared", "strokeDash": "shared"}},
  "concat": [
    {
      "title": {"text": "(a) - ζ⁎ = 0.05", "offset": -2},
      "width": 348,
      "height": 219,
      "encoding": {
        "x": {"field": "f", "type": "quantitative", "scale": {"type": "log", "domain": [5.623e-7, 0.1778]},
          "axis": {"values": [1e-6, 1e-5, 1e-4, 1e-3, 1e-2, 1e-1], "labels": false, "title": null}},
        "y": {"field": "v", "type": "quantitative", "scale": {"type": "log", "domain": [1e-14, 1e-6]},
          "axis": {"values": [1e-14, 1e-12, 1e-10, 1e-8, 1e-6], "title": "h₀²Ω_GW",
            "labelExpr": "'10' + ['⁰','⁻¹','⁻²','⁻³','⁻⁴','⁻⁵','⁻⁶','⁻⁷','⁻⁸','⁻⁹','⁻¹⁰','⁻¹¹','⁻¹²','⁻¹³','⁻¹⁴'][round(-log(datum.value)/LN10)]"}},
        "color": {"field": "series", "type": "nominal",
          "scale": {"domain": ["Ω_GW^tot", "Ω_GW^+", "Ω_GW^−", "LISA PI - 𝒫_GW = 1", "LISA PI - 𝒫_GW = 0.1", "LISA PI - 𝒫_GW = 0.01", "LISA PI total"],
            "range": ["#000000", "#e8000b", "#023eff", "#8172b3", "#8172b3", "#8172b3", "#dd8452"]},
          "legend": {"title": null, "orient": "none", "legendX": 671, "legendY": 146}},
        "strokeDash": {"field": "series", "type": "nominal",
          "scale": {"domain": ["Ω_GW^tot", "Ω_GW^+", "Ω_GW^−", "LISA PI - 𝒫_GW = 1", "LISA PI - 𝒫_GW = 0.1", "LISA PI - 𝒫_GW = 0.01", "LISA PI total"],
            "range": [[1, 0], [1, 0], [1, 0], [1, 0], [11, 5], [19, 5, 3, 5], [1, 0]]},
          "legend": {"title": null, "orient": "none", "legendX": 671, "legendY": 146}}
      },
      "layer": [
        {"data": {"name": "sig"}, "transform": [{"filter": "datum.panel == 'a'"}],
          "mark": {"type": "line", "strokeWidth": 2.5, "clip": true, "interpolate": "monotone"}},
        {"data": {"name": "sens"},
          "mark": {"type": "line", "strokeWidth": 3, "clip": true, "interpolate": "monotone"}}
      ]
    },
    {
      "title": {"text": "(b) - ζ⁎ = 0.1", "offset": 6},
      "width": 348,
      "height": 219,
      "encoding": {
        "x": {"field": "f", "type": "quantitative", "scale": {"type": "log", "domain": [5.623e-7, 0.1778]},
          "axis": {"values": [1e-6, 1e-5, 1e-4, 1e-3, 1e-2, 1e-1], "labels": false, "title": null}},
        "y": {"field": "v", "type": "quantitative", "scale": {"type": "log", "domain": [1e-14, 1e-6]},
          "axis": {"values": [1e-14, 1e-12, 1e-10, 1e-8, 1e-6], "labels": false, "title": null}},
        "color": {"field": "series", "type": "nominal",
          "scale": {"domain": ["Ω_GW^tot", "Ω_GW^+", "Ω_GW^−", "LISA PI - 𝒫_GW = 1", "LISA PI - 𝒫_GW = 0.1", "LISA PI - 𝒫_GW = 0.01", "LISA PI total"],
            "range": ["#000000", "#e8000b", "#023eff", "#8172b3", "#8172b3", "#8172b3", "#dd8452"]},
          "legend": {"title": null, "orient": "none", "legendX": 671, "legendY": 146}},
        "strokeDash": {"field": "series", "type": "nominal",
          "scale": {"domain": ["Ω_GW^tot", "Ω_GW^+", "Ω_GW^−", "LISA PI - 𝒫_GW = 1", "LISA PI - 𝒫_GW = 0.1", "LISA PI - 𝒫_GW = 0.01", "LISA PI total"],
            "range": [[1, 0], [1, 0], [1, 0], [1, 0], [11, 5], [19, 5, 3, 5], [1, 0]]},
          "legend": {"title": null, "orient": "none", "legendX": 671, "legendY": 146}}
      },
      "layer": [
        {"data": {"name": "sig"}, "transform": [{"filter": "datum.panel == 'b'"}],
          "mark": {"type": "line", "strokeWidth": 2.5, "clip": true, "interpolate": "monotone"}},
        {"data": {"name": "sens"},
          "mark": {"type": "line", "strokeWidth": 3, "clip": true, "interpolate": "monotone"}}
      ]
    },
    {
      "title": {"text": "(c) - ζ⁎ = 0.5", "offset": -2},
      "width": 348,
      "height": 219,
      "encoding": {
        "x": {"field": "f", "type": "quantitative", "scale": {"type": "log", "domain": [5.623e-7, 0.1778]},
          "axis": {"values": [1e-6, 1e-5, 1e-4, 1e-3, 1e-2, 1e-1], "title": "f (Hz)", "labelPadding": 17, "titlePadding": 6,
            "labelExpr": "'10' + ['⁰','⁻¹','⁻²','⁻³','⁻⁴','⁻⁵','⁻⁶','⁻⁷','⁻⁸','⁻⁹','⁻¹⁰','⁻¹¹','⁻¹²','⁻¹³','⁻¹⁴'][round(-log(datum.value)/LN10)]"}},
        "y": {"field": "v", "type": "quantitative", "scale": {"type": "log", "domain": [1e-14, 1e-6]},
          "axis": {"values": [1e-14, 1e-12, 1e-10, 1e-8, 1e-6], "title": "h₀²Ω_GW",
            "labelExpr": "'10' + ['⁰','⁻¹','⁻²','⁻³','⁻⁴','⁻⁵','⁻⁶','⁻⁷','⁻⁸','⁻⁹','⁻¹⁰','⁻¹¹','⁻¹²','⁻¹³','⁻¹⁴'][round(-log(datum.value)/LN10)]"}},
        "color": {"field": "series", "type": "nominal",
          "scale": {"domain": ["Ω_GW^tot", "Ω_GW^+", "Ω_GW^−", "LISA PI - 𝒫_GW = 1", "LISA PI - 𝒫_GW = 0.1", "LISA PI - 𝒫_GW = 0.01", "LISA PI total"],
            "range": ["#000000", "#e8000b", "#023eff", "#8172b3", "#8172b3", "#8172b3", "#dd8452"]},
          "legend": {"title": null, "orient": "none", "legendX": 671, "legendY": 146}},
        "strokeDash": {"field": "series", "type": "nominal",
          "scale": {"domain": ["Ω_GW^tot", "Ω_GW^+", "Ω_GW^−", "LISA PI - 𝒫_GW = 1", "LISA PI - 𝒫_GW = 0.1", "LISA PI - 𝒫_GW = 0.01", "LISA PI total"],
            "range": [[1, 0], [1, 0], [1, 0], [1, 0], [11, 5], [19, 5, 3, 5], [1, 0]]},
          "legend": {"title": null, "orient": "none", "legendX": 671, "legendY": 146}}
      },
      "layer": [
        {"data": {"name": "sig"}, "transform": [{"filter": "datum.panel == 'c'"}],
          "mark": {"type": "line", "strokeWidth": 2.5, "clip": true, "interpolate": "monotone"}},
        {"data": {"name": "sens"},
          "mark": {"type": "line", "strokeWidth": 3, "clip": true, "interpolate": "monotone"}}
      ]
    },
    {
      "title": {"text": "(d) - ζ⁎ = 1.0", "offset": 6},
      "width": 348,
      "height": 219,
      "encoding": {
        "x": {"field": "f", "type": "quantitative", "scale": {"type": "log", "domain": [5.623e-7, 0.1778]},
          "axis": {"values": [1e-6, 1e-5, 1e-4, 1e-3, 1e-2, 1e-1], "title": "f (Hz)", "labelPadding": 17, "titlePadding": 6,
            "labelExpr": "'10' + ['⁰','⁻¹','⁻²','⁻³','⁻⁴','⁻⁵','⁻⁶','⁻⁷','⁻⁸','⁻⁹','⁻¹⁰','⁻¹¹','⁻¹²','⁻¹³','⁻¹⁴'][round(-log(datum.value)/LN10)]"}},
        "y": {"field": "v", "type": "quantitative", "scale": {"type": "log", "domain": [1e-14, 1e-6]},
          "axis": {"values": [1e-14, 1e-12, 1e-10, 1e-8, 1e-6], "labels": false, "title": null}},
        "color": {"field": "series", "type": "nominal",
          "scale": {"domain": ["Ω_GW^tot", "Ω_GW^+", "Ω_GW^−", "LISA PI - 𝒫_GW = 1", "LISA PI - 𝒫_GW = 0.1", "LISA PI - 𝒫_GW = 0.01", "LISA PI total"],
            "range": ["#000000", "#e8000b", "#023eff", "#8172b3", "#8172b3", "#8172b3", "#dd8452"]},
          "legend": {"title": null, "orient": "none", "legendX": 671, "legendY": 146}},
        "strokeDash": {"field": "series", "type": "nominal",
          "scale": {"domain": ["Ω_GW^tot", "Ω_GW^+", "Ω_GW^−", "LISA PI - 𝒫_GW = 1", "LISA PI - 𝒫_GW = 0.1", "LISA PI - 𝒫_GW = 0.01", "LISA PI total"],
            "range": [[1, 0], [1, 0], [1, 0], [1, 0], [11, 5], [19, 5, 3, 5], [1, 0]]},
          "legend": {"title": null, "orient": "none", "legendX": 671, "legendY": 146}}
      },
      "layer": [
        {"data": {"name": "sig"}, "transform": [{"filter": "datum.panel == 'd'"}],
          "mark": {"type": "line", "strokeWidth": 2.5, "clip": true, "interpolate": "monotone"}},
        {"data": {"name": "sens"},
          "mark": {"type": "line", "strokeWidth": 3, "clip": true, "interpolate": "monotone"}}
      ]
    }
  ],
  "config": {
    "font": "DejaVu Sans",
    "view": {"stroke": "#cccccc", "strokeWidth": 1.5},
    "axis": {
      "grid": true, "gridColor": "#cccccc", "gridWidth": 1, "ticks": false, "domain": false,
      "labelFont": "DejaVu Sans", "labelFontSize": 14, "labelColor": "#262626", "labelPadding": 13,
      "titleFont": "DejaVu Sans", "titleFontSize": 15, "titleFontWeight": "normal", "titleColor": "#262626", "titlePadding": 5
    },
    "title": {"font": "DejaVu Sans", "fontSize": 13, "fontWeight": "normal", "color": "#262626", "frame": "group"},
    "legend": {
      "symbolType": "stroke", "symbolSize": 900, "symbolStrokeWidth": 2.5,
      "labelFont": "DejaVu Sans", "labelFontSize": 13, "labelColor": "#262626", "labelLimit": 300, "labelOffset": 10,
      "fillColor": "white", "strokeColor": "#cccccc", "padding": 6, "cornerRadius": 3, "rowPadding": 0
    }
  }
}
